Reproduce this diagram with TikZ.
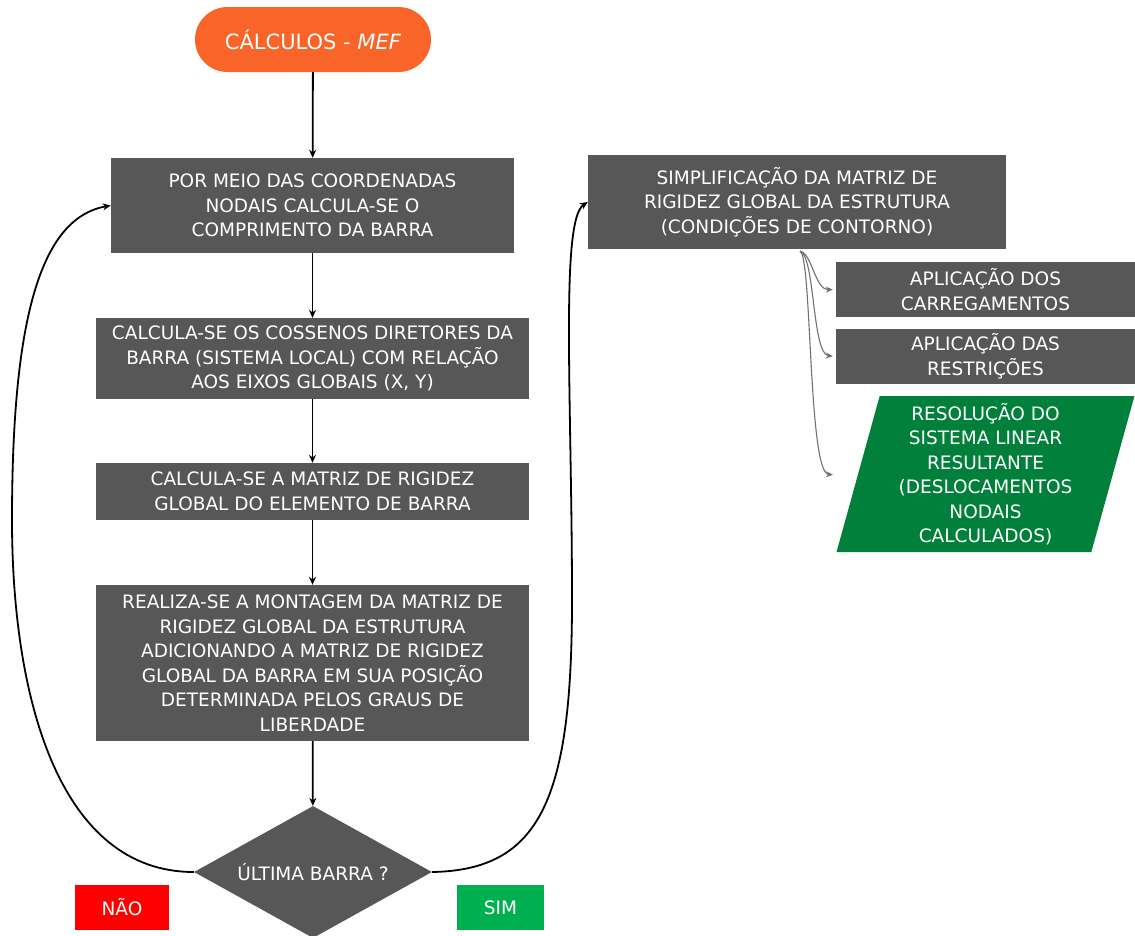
\documentclass[tikz,border=0pt]{standalone}
\usepackage{fontspec}
\setmainfont{DejaVu Sans}
\usetikzlibrary{arrows.meta,shapes.geometric}
\definecolor{gry}{HTML}{575757}
\definecolor{orng}{HTML}{F96428}
\definecolor{dgreen}{HTML}{00803A}
\definecolor{lgreen}{HTML}{00B050}
\definecolor{lred}{HTML}{FF0000}
\definecolor{conn}{HTML}{707070}
\tikzset{
  box/.style={fill=gry, text=white, align=center, inner sep=0pt, font=\fontsize{18.5}{24.5}\selectfont},
  flow/.style={line width=1.8pt, -{Stealth[length=8pt,width=7pt]}},
  sub/.style={line width=1.1pt, conn, -{Stealth[length=7pt,width=6pt]}},
  tag/.style={text=white, inner sep=0pt, font=\fontsize{18.5}{24.5}\selectfont}
}
\begin{document}
\begin{tikzpicture}[x=1pt,y=-1pt]
\useasboundingbox (0,0) rectangle (1135,935);
\node[fill=orng, text=white, rounded corners=32.5pt, minimum width=236pt, minimum height=65pt, inner sep=0pt, font=\fontsize{21}{26}\selectfont] (top) at (313,39.5) {CÁLCULOS - \textit{MEF}};
\node[box, minimum width=403pt, minimum height=95pt] (b1) at (312.5,205.5) {POR MEIO DAS COORDENADAS\\NODAIS CALCULA-SE O\\COMPRIMENTO DA BARRA};
\node[box, minimum width=433pt, minimum height=81pt] (b2) at (312.5,358.5) {CALCULA-SE OS COSSENOS DIRETORES DA\\BARRA (SISTEMA LOCAL) COM RELAÇÃO\\AOS EIXOS GLOBAIS (X, Y)};
\node[box, minimum width=433pt, minimum height=57pt] (b3) at (312.5,491.5) {CALCULA-SE A MATRIZ DE RIGIDEZ\\GLOBAL DO ELEMENTO DE BARRA};
\node[box, minimum width=433pt, minimum height=156pt] (b4) at (312.5,663) {REALIZA-SE A MONTAGEM DA MATRIZ DE\\RIGIDEZ GLOBAL DA ESTRUTURA\\ADICIONANDO A MATRIZ DE RIGIDEZ\\GLOBAL DA BARRA EM SUA POSIÇÃO\\DETERMINADA PELOS GRAUS DE\\LIBERDADE};
\node[box, diamond, aspect=1.8, minimum width=238pt, minimum height=132pt] (d) at (313,872) {ÚLTIMA BARRA ?};
\node[tag, fill=lred, minimum width=94pt, minimum height=45pt] (nao) at (122,907.5) {NÃO};
\node[tag, fill=lgreen, minimum width=87pt, minimum height=45pt] (sim) at (500.5,907.5) {SIM};
\node[box, minimum width=418pt, minimum height=94pt] (b5) at (797,202) {SIMPLIFICAÇÃO DA MATRIZ DE\\RIGIDEZ GLOBAL DA ESTRUTURA\\(CONDIÇÕES DE CONTORNO)};
\node[box, minimum width=299pt, minimum height=55pt] (b6) at (985.5,289.5) {APLICAÇÃO DOS\\CARREGAMENTOS};
\node[box, minimum width=299pt, minimum height=55pt] (b7) at (985.5,356.5) {APLICAÇÃO DAS\\RESTRIÇÕES};
\node[box, fill=dgreen, trapezium, trapezium left angle=76, trapezium right angle=104, trapezium stretches=true, minimum width=299pt, minimum height=156pt] (p) at (985.5,474) {RESOLUÇÃO DO\\SISTEMA LINEAR\\RESULTANTE\\(DESLOCAMENTOS\\NODAIS\\CALCULADOS)};
\draw[flow] (top) -- (b1);
\draw[flow] (b1) -- (b2);
\draw[flow] (b2) -- (b3);
\draw[flow] (b3) -- (b4);
\draw[flow] (b4) -- (d);
\draw[flow] (d.west) .. controls (60,872) and (12,700) .. (12,520) .. controls (12,320) and (40,218) .. (b1.west);
\draw[flow] (d.east) .. controls (540,870) and (572,800) .. (572,600) .. controls (572,400) and (560,220) .. (b5.west);
\coordinate (g0) at ([xshift=3pt,yshift=-2pt]b5.south);
\coordinate (g3) at (836,475);
\draw[sub, shorten >=3pt] (g0) .. controls (812,253) and (815,290) .. (b6.west);
\draw[sub, shorten >=3pt] (g0) .. controls (815,255) and (812,354) .. (b7.west);
\draw[sub, shorten >=3pt] (g0) .. controls (812,255) and (808,473) .. (g3);
\end{tikzpicture}
\end{document}
